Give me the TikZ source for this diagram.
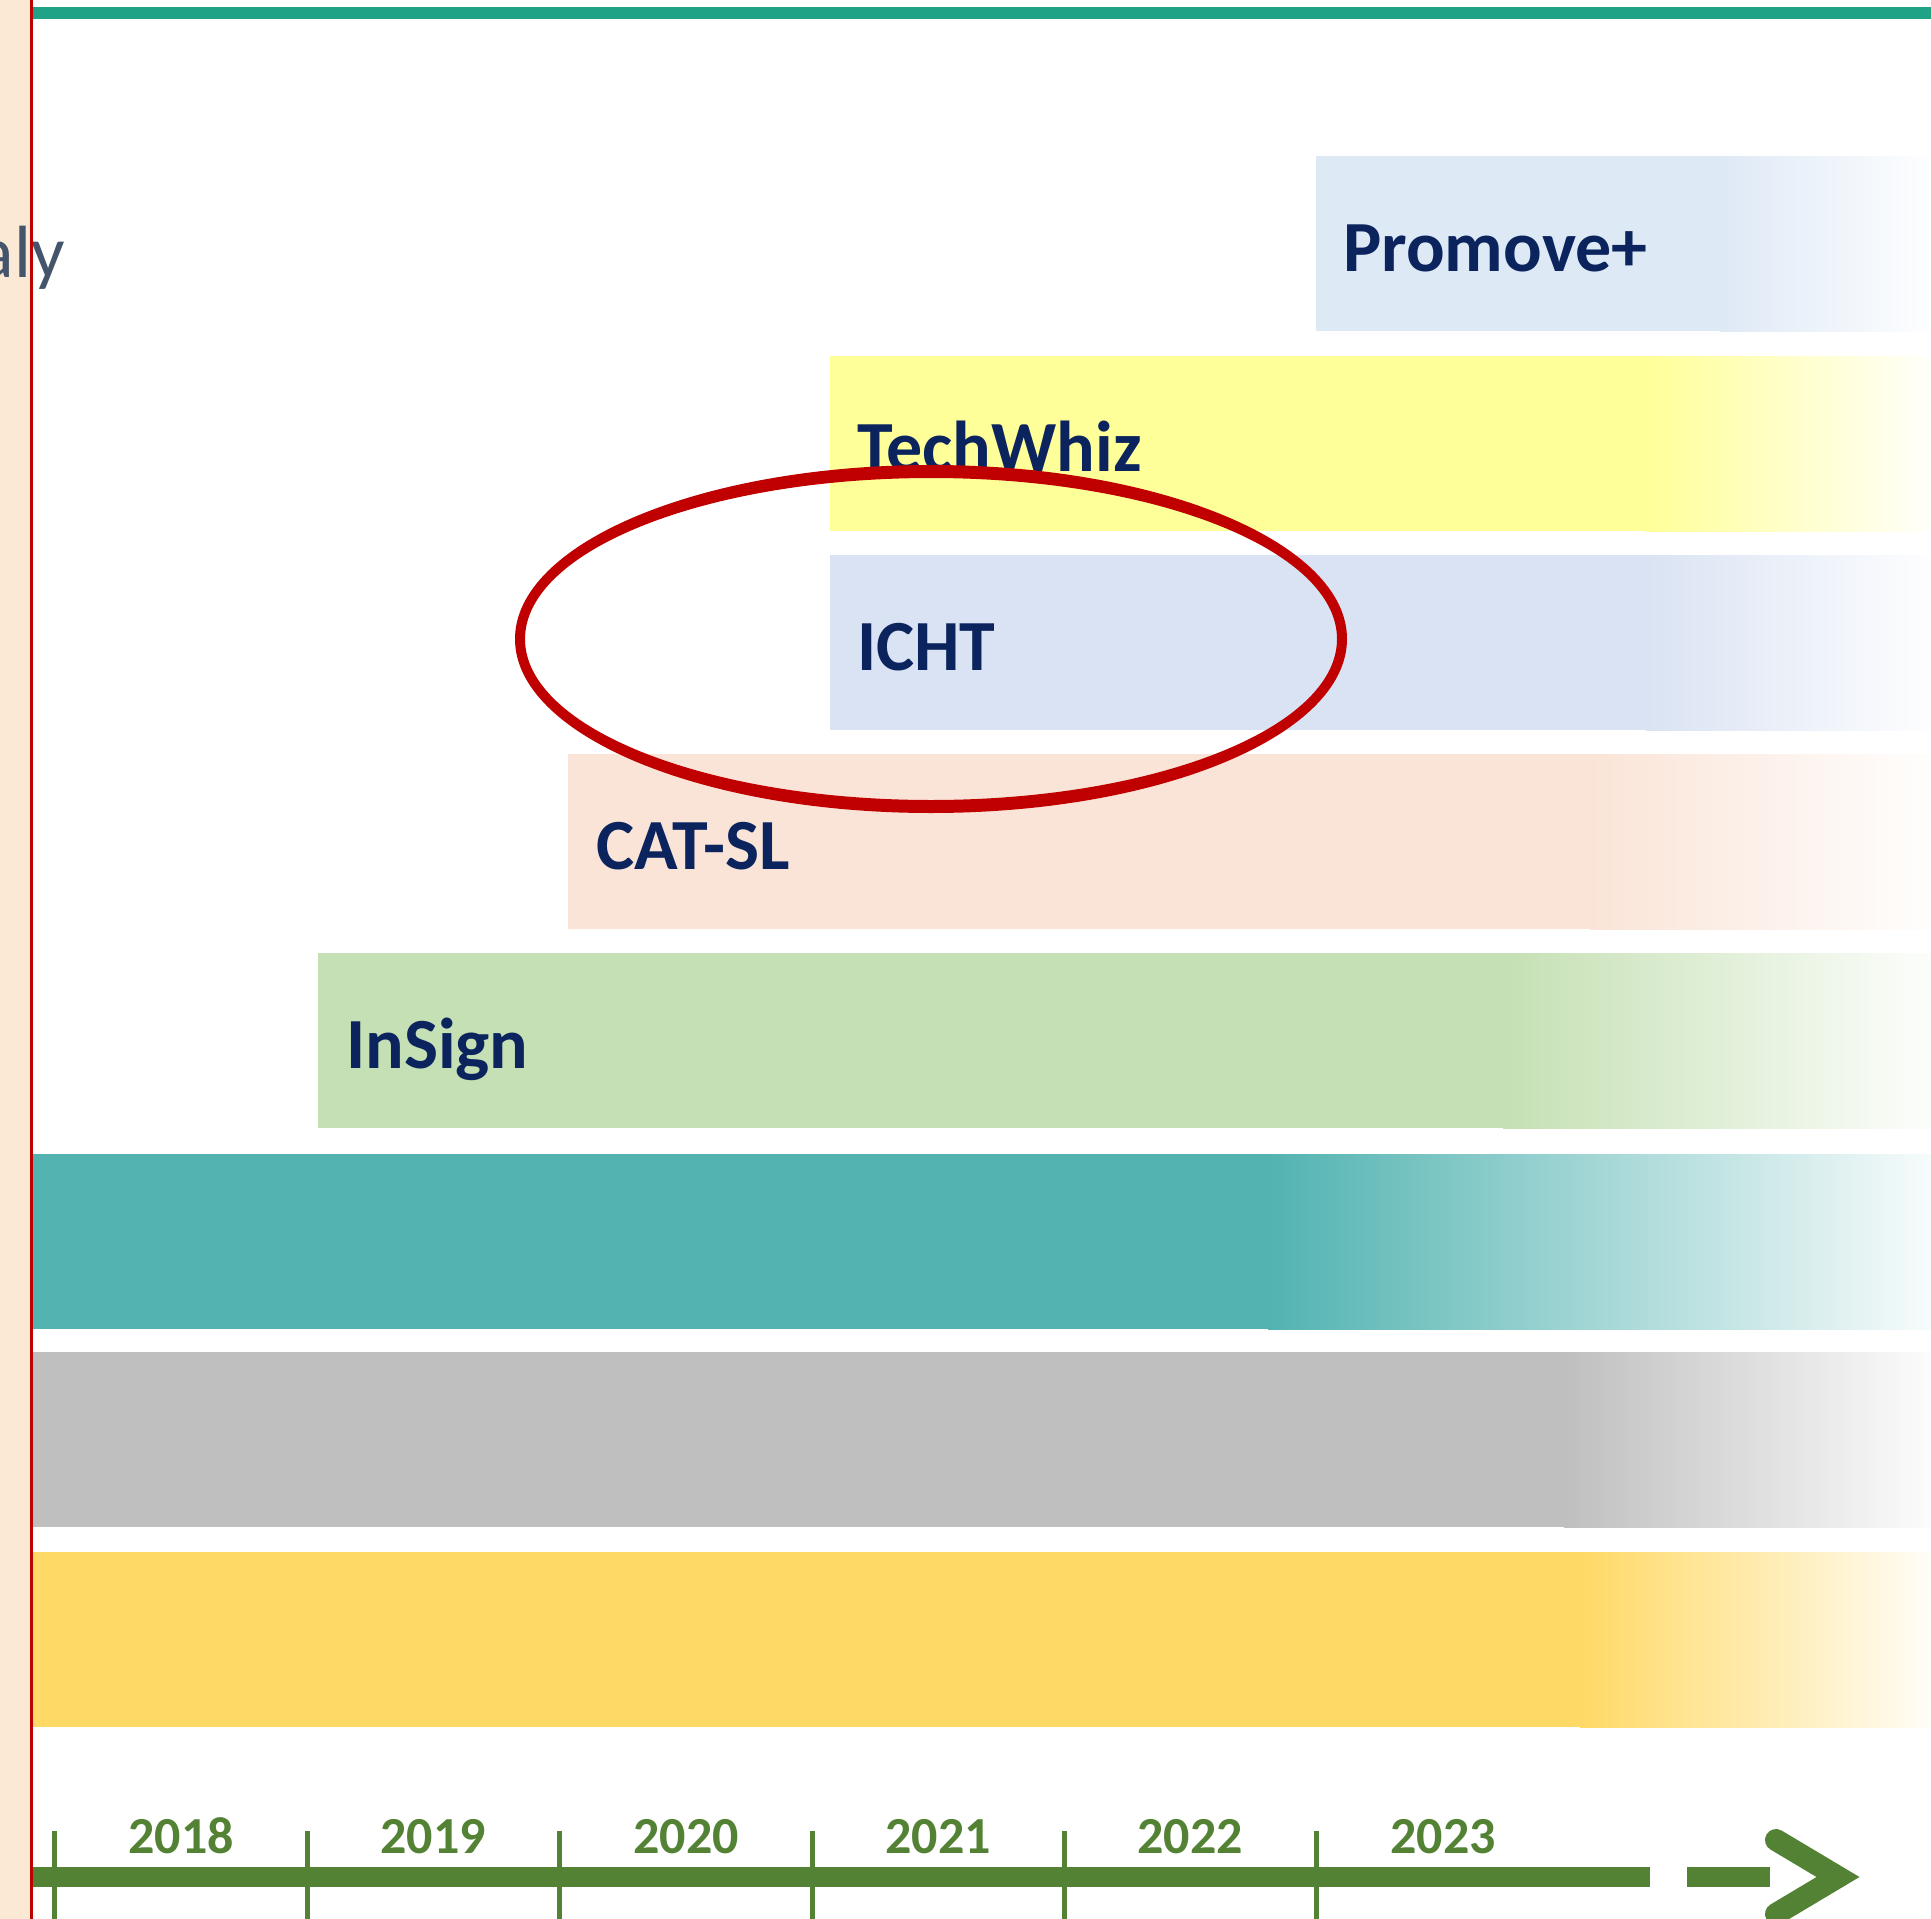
\documentclass[tikz,border=0pt]{standalone}
\usepackage{fontspec}
\setmainfont{Carlito}
\usetikzlibrary{positioning}
\definecolor{topteal}{RGB}{31,162,133}
\definecolor{sidebeige}{RGB}{251,233,213}
\definecolor{markred}{RGB}{192,0,0}
\definecolor{promoveblue}{RGB}{222,233,246}
\definecolor{techyellow}{RGB}{255,255,153}
\definecolor{ichtblue}{RGB}{218,227,243}
\definecolor{catpeach}{RGB}{250,228,215}
\definecolor{insigngreen}{RGB}{197,224,180}
\definecolor{bandteal}{RGB}{82,179,177}
\definecolor{bandgray}{RGB}{191,191,191}
\definecolor{bandyellow}{RGB}{255,217,102}
\definecolor{labelnavy}{RGB}{12,36,94}
\definecolor{axisgreen}{RGB}{84,130,53}
\definecolor{slategray}{RGB}{68,84,106}

\tikzset{
    projlabel/.style={anchor=base west, inner sep=0pt, text=labelnavy,
        font=\bfseries\fontsize{72}{80}\selectfont},
    yearlabel/.style={anchor=base, inner sep=0pt, text=axisgreen,
        font=\bfseries\fontsize{52}{60}\selectfont}
}

% left x, top y, colour, start of fade
\newcommand{\fadebar}[4]{%
    \fill[#3] (#1,#2) rectangle (#4,#2+175);
    \shade[left color=#3, right color=#3!5!white] (#4,#2) rectangle (1931,#2+175);
}

\begin{document}
\begin{tikzpicture}[x=1pt, y=-1pt]
        \useasboundingbox (0,0) rectangle (1931,1919);
        \fill[white] (0,0) rectangle (1931,1919);

        % Top rule
        \fill[topteal] (32,7) rectangle (1931,19);

        % Project bars
        \fadebar{1316}{156}{promoveblue}{1720}
        \fadebar{830}{356}{techyellow}{1645}
        \fadebar{830}{555}{ichtblue}{1646}
        \fadebar{568}{754}{catpeach}{1590}
        \fadebar{318}{953}{insigngreen}{1503}

        \node[projlabel] (promove) at (1343,271) {Promove+};
        \node[projlabel] (techwhiz) at (857,471) {TechWhiz};
        \node[projlabel] (icht) at (857,670) {ICHT};
        \node[projlabel] (catsl) at (596,869) {CAT-SL};
        \node[projlabel] (insign) at (346,1068) {InSign};

        % Wide bands
        \fadebar{32}{1154}{bandteal}{1268}
        \fadebar{32}{1352}{bandgray}{1564}
        \fadebar{32}{1552}{bandyellow}{1580}

        % Highlight (ring, thicker at top and bottom)
        \fill[markred, even odd rule] (931,639) ellipse [x radius=416, y radius=174]
            (931,639) ellipse [x radius=406, y radius=161];

        % Time axis
        \draw[axisgreen, line width=20] (32,1877) -- (1650,1877);
        \draw[axisgreen, line width=20] (1687,1877) -- (1770,1877);
        \draw[axisgreen, line width=22, line cap=round, miter limit=10]
            (1776,1840) -- (1838,1877) -- (1776,1914);

        % Year ticks and labels
        \foreach \x in {54, 307, 559, 812, 1064, 1316} {
            \draw[axisgreen, line width=5] (\x,1831) -- (\x,1925);
        }
        \foreach \x/\t in {181/2018, 433/2019, 686/2020, 938/2021, 1190/2022, 1443/2023} {
            \node[yearlabel] (y\t) at (\x,1853) {\t};
        }

        % Side strip
        \fill[sidebeige] (0,0) rectangle (30,1919);
        \node[anchor=base east, inner sep=0pt, text=slategray,
            font=\fontsize{74}{80}\selectfont] (country) at (65,277) {aly};
        \draw[markred, line width=3] (31.5,0) -- (31.5,1919);
\end{tikzpicture}
\end{document}
